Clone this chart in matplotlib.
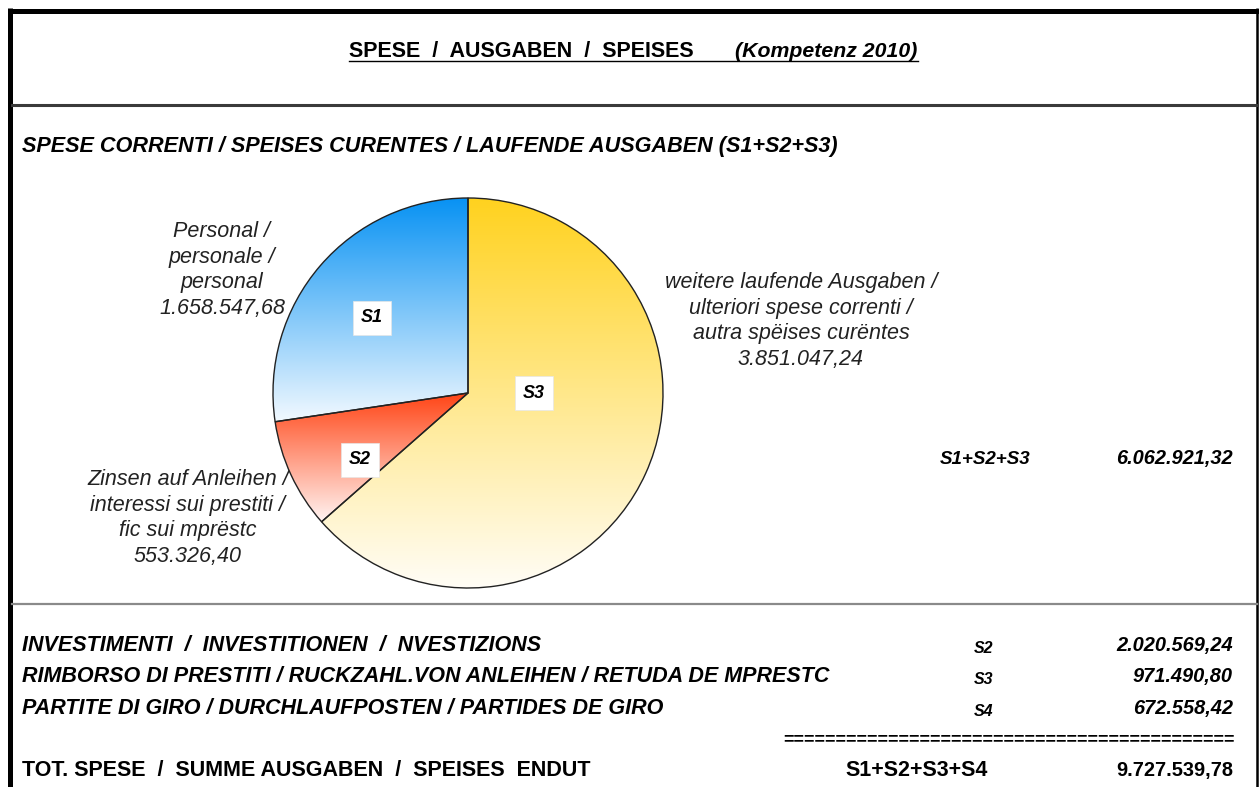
import numpy as np
import matplotlib
matplotlib.use("Agg")
import matplotlib.pyplot as plt
from matplotlib.colors import LinearSegmentedColormap

# =============================================
#                    DATI
# =============================================

pie_codes = ["S1", "S2", "S3"]
pie_labels = [
    "Personal /\npersonale /\npersonal",
    "Zinsen auf Anleihen /\ninteressi sui prestiti /\nfic sui mprëstc",
    "weitere laufende Ausgaben /\nulteriori spese correnti /\nautra spëises curëntes",
]
pie_values = [1658547.68, 553326.40, 3851047.24]
pie_top = ["#0892f3", "#ff4516", "#ffd21f"]
pie_bottom = ["#f2f9ff", "#fff4f2", "#fffdf6"]

row_labels = [
    "INVESTIMENTI  /  INVESTITIONEN  /  NVESTIZIONS",
    "RIMBORSO DI PRESTITI / RUCKZAHL.VON ANLEIHEN / RETUDA DE MPRESTC",
    "PARTITE DI GIRO / DURCHLAUFPOSTEN / PARTIDES DE GIRO",
]
row_codes = ["S2", "S3", "S4"]
row_values = [2020569.24, 971490.80, 672558.42]

title = "SPESE  /  AUSGABEN  /  SPEISES"
title_year = "(Kompetenz 2010)"
subtitle = "SPESE CORRENTI / SPEISES CURENTES / LAUFENDE AUSGABEN (S1+S2+S3)"
total_label = "TOT. SPESE  /  SUMME AUSGABEN  /  SPEISES  ENDUT"


def fmt(v):
    # formato italiano: 1.234.567,89
    s = f"{v:,.2f}"
    return s.replace(",", "X").replace(".", ",").replace("X", ".")


plt.rcParams["font.family"] = ["Liberation Sans", "DejaVu Sans"]

W, H = 1259, 787
fig = plt.figure(figsize=(W / 100, H / 100), dpi=100)
ax = fig.add_axes([0, 0, 1, 1])
ax.set_xlim(0, W)
ax.set_ylim(H, 0)
ax.axis("off")

# cornice
ax.plot([10.5, 10.5], [8, H], color="black", lw=3.6, solid_capstyle="butt")
ax.plot([8, W], [10.5, 10.5], color="black", lw=3.6, solid_capstyle="butt")
ax.plot([1257, 1257], [8, H], color="black", lw=1.8, solid_capstyle="butt")
ax.plot([12, 1257], [104.5, 104.5], color="#3a3a3a", lw=2.2)
ax.plot([12, 1257], [604, 604], color="#8a8a8a", lw=1.6)

# titolo
ax.text(349, 57, title, fontsize=15.5, fontweight="bold", ha="left", va="baseline")
ax.text(735, 57, title_year, fontsize=15.3, fontweight="bold", style="italic",
        ha="left", va="baseline")
ax.plot([349, 918], [61, 61], color="black", lw=1.0)

ax.text(22, 152, subtitle, fontsize=15.6, fontweight="bold", style="italic",
        ha="left", va="baseline")

# =============================================
#                    TORTA
# =============================================

cx, cy, r = 468, 393, 195
axp = fig.add_axes([(cx - r) / W, (H - cy - r) / H, 2 * r / W, 2 * r / H])
wedges, _ = axp.pie(pie_values, startangle=90, counterclock=True,
                    wedgeprops=dict(edgecolor="#222222", linewidth=1.0))
axp.axis("off")

grad = np.linspace(0, 1, 256).reshape(-1, 1)
for w, top, bot in zip(wedges, pie_top, pie_bottom):
    ext = w.get_path().get_extents()
    cmap = LinearSegmentedColormap.from_list("g", [bot, top])
    im = axp.imshow(grad, cmap=cmap, origin="lower", aspect="auto",
                    extent=(ext.x0, ext.x1, ext.y0, ext.y1), zorder=0.5)
    im.set_clip_path(w)
    w.set_facecolor("none")
    w.set_zorder(1)
axp.set_xlim(-1, 1)
axp.set_ylim(-1, 1)

# etichette S1/S2/S3 nei box bianchi
code_pos = [(372, 318), (360, 460), (534, 393)]
for code, (x, y) in zip(pie_codes, code_pos):
    axp.text(x, y, code, transform=ax.transData, fontsize=13, fontweight="bold",
             style="italic", ha="center", va="center", zorder=3,
             bbox=dict(facecolor="white", edgecolor="#e6e6e6", linewidth=0.5,
                       boxstyle="square,pad=0.45"))

# etichette esterne
label_pos = [(222, 270), (188, 518), (801, 321)]
for lab, val, (x, y) in zip(pie_labels, pie_values, label_pos):
    ax.text(x, y, lab + "\n" + fmt(val), fontsize=15.5, style="italic",
            color="#222222", ha="center", va="center", linespacing=1.3)

ax.text(985, 464, "+".join(pie_codes), fontsize=13.5, fontweight="bold",
        style="italic", ha="center", va="baseline")
ax.text(1233, 464, fmt(sum(pie_values)), fontsize=14.4, fontweight="bold",
        style="italic", ha="right", va="baseline")

# =============================================
#               ALTRE VOCI
# =============================================

row_y = [651, 682, 714]
for lab, code, val, y in zip(row_labels, row_codes, row_values, row_y):
    ax.text(22, y, lab, fontsize=15.5, fontweight="bold", style="italic",
            ha="left", va="baseline")
    ax.text(984, y + 2, code, fontsize=11.5, fontweight="bold", style="italic",
            ha="center", va="baseline")
    ax.text(1233, y, fmt(val), fontsize=14.4, fontweight="bold", style="italic",
            ha="right", va="baseline")

ax.text(1235, 744, "=" * 43, fontsize=13, fontweight="bold", ha="right", va="baseline")

total = sum(pie_values) + sum(row_values)
ax.text(22, 776, total_label, fontsize=15.5, fontweight="bold", ha="left", va="baseline")
ax.text(917, 776, "+".join(pie_codes + ["S4"]), fontsize=15.5, fontweight="bold",
        ha="center", va="baseline")
ax.text(1233, 776, fmt(total), fontsize=14.4, fontweight="bold", ha="right", va="baseline")

fig.savefig("out.png", dpi=100)
